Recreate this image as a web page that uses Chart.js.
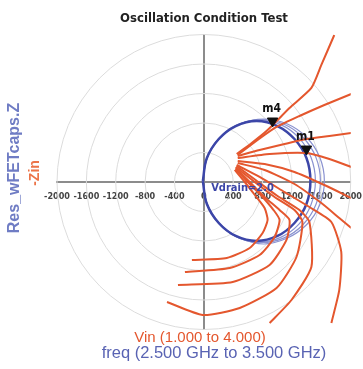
<!DOCTYPE html>
<html>
<head>
<meta charset="utf-8">
<script src="https://cdn.jsdelivr.net/npm/chart.js@4.4.1/dist/chart.umd.min.js"></script>
<style>
  html, body { margin: 0; padding: 0; background: #fff; }
  #wrap { width: 363px; height: 369px; position: relative; }
</style>
</head>
<body>
<div id="wrap"><canvas id="chart"></canvas></div>
<script>
// -Zin: one curve per freq step, Vin runs outward from 1.000 to 4.000
const zin01 = [[447, 380], [651, 529], [868, 705], [1166, 1003], [1464, 1275], [1600, 1587], [1776, 1993]];
const zin02 = [[461, 366], [732, 570], [990, 746], [1302, 895], [1641, 1044], [2007, 1193]];
const zin03 = [[461, 353], [759, 434], [1098, 515], [1397, 583], [1709, 624], [2007, 664]];
const zin04 = [[461, 325], [895, 380], [1397, 393], [1709, 312], [2007, 203]];
const zin05 = [[461, 285], [827, 244], [1234, 136], [1641, -41], [2007, -217]];
const zin06 = [[461, 258], [827, 163], [1234, -27], [1600, -285], [1844, -488], [2007, -624]];
const zin07 = [[447, 231], [759, 68], [1098, -136], [1437, -339], [1736, -542], [1871, -949], [1844, -1464], [1736, -1912]];
const zin08 = [[447, 217], [705, 27], [1003, -190], [1302, -380], [1437, -542], [1464, -1153], [1193, -1600], [895, -1912]];
const zin09 = [[434, 203], [692, 0], [963, -203], [1234, -380], [1342, -542], [1261, -1017], [990, -1437], [488, -1709], [-14, -1803], [-502, -1627]];
const zin10 = [[434, 190], [624, 0], [827, -203], [1031, -380], [1166, -515], [1125, -786], [895, -1125], [393, -1356], [-353, -1397]];
const zin11 = [[434, 176], [597, 0], [786, -190], [949, -380], [1031, -515], [963, -746], [759, -990], [353, -1166], [-258, -1220]];
const zin12 = [[420, 163], [556, 0], [705, -190], [827, -353], [868, -515], [800, -692], [624, -895], [312, -1031], [-163, -1058]];
const zinCurves = [zin01, zin02, zin03, zin04, zin05, zin06, zin07, zin08, zin09, zin10, zin11, zin12];

// Res_wFETcaps.Z: freq loops 2.5 to 3.5 GHz
const resLoop1 = [[-14, 14], [41, 325], [203, 583], [434, 759], [719, 827], [1003, 759], [1234, 583], [1397, 325], [1451, 14], [1397, -298], [1234, -556], [1003, -732], [719, -800], [434, -732], [203, -556], [41, -298]];
const resLoop2 = [[-14, 14], [45, 331], [210, 598], [460, 778], [753, 841], [1046, 778], [1295, 598], [1460, 331], [1519, 14], [1460, -304], [1295, -571], [1046, -751], [753, -814], [460, -751], [210, -571], [45, -304]];
const resLoop3 = [[-14, 14], [47, 334], [221, 603], [480, 784], [786, 847], [1093, 784], [1352, 603], [1526, 334], [1587, 14], [1526, -306], [1352, -576], [1093, -757], [786, -820], [480, -757], [221, -576], [47, -306]];
const resLoop4 = [[-14, 14], [49, 335], [229, 607], [498, 790], [814, 854], [1130, 790], [1398, 607], [1578, 335], [1641, 14], [1578, -308], [1398, -580], [1130, -763], [814, -841], [498, -763], [229, -580], [49, -308]];
const resLoops = [resLoop1, resLoop2, resLoop3, resLoop4];

const markerNames = ['m4', 'm1'];
const markerX = [936, 1397];
const markerY = [827, 447];

const ringRadii = [400, 800, 1200, 1600, 2000];
const xTicks = [-2000, -1600, -1200, -800, -400, 0, 400, 800, 1200, 1600, 2000];

const NARROW = '"Liberation Sans Narrow", "DejaVu Sans Condensed", sans-serif';
const SANS = '"Liberation Sans", Arial, sans-serif';

const toXY = pts => pts.map(([x, y]) => ({ x, y }));

const datasets = [];
zinCurves.forEach(c => datasets.push({
  data: toXY(c), showLine: true, borderColor: '#e4572e', borderWidth: 2,
  pointRadius: 0, tension: 0.2, order: 2
}));
resLoops.forEach((c, i) => datasets.push({
  data: toXY(c.concat([c[0]])), showLine: true,
  borderColor: i === 0 ? '#3c46a8' : '#8a92d0', borderWidth: i === 0 ? 2.5 : 1.2,
  pointRadius: 0, tension: 0.4, order: 3
}));
datasets.push({
  data: markerX.map((x, i) => ({ x, y: markerY[i] })), showLine: false,
  pointStyle: 'triangle', rotation: 180, pointRadius: 6,
  backgroundColor: '#111', borderColor: '#111', order: 1
});

const ringsPlugin = {
  id: 'rings',
  beforeDatasetsDraw(chart) {
    const { ctx, scales: { x, y } } = chart;
    const cx = x.getPixelForValue(0), cy = y.getPixelForValue(0);
    ctx.save();
    ctx.strokeStyle = '#dcdcdc';
    ctx.lineWidth = 1;
    ringRadii.forEach(r => {
      const rx = x.getPixelForValue(r) - cx;
      const ry = cy - y.getPixelForValue(r);
      ctx.beginPath();
      ctx.ellipse(cx, cy, rx, ry, 0, 0, Math.PI * 2);
      ctx.stroke();
    });
    ctx.restore();
  }
};

const textPlugin = {
  id: 'texts',
  afterDatasetsDraw(chart) {
    const { ctx, scales: { x, y } } = chart;
    ctx.save();
    // marker labels
    const meta = chart.getDatasetMeta(chart.data.datasets.length - 1);
    ctx.font = 'bold 12px ' + NARROW;
    ctx.fillStyle = '#111';
    ctx.textAlign = 'center';
    ctx.textBaseline = 'middle';
    meta.data.forEach((pt, i) => ctx.fillText(markerNames[i], pt.x - 1, pt.y - 12));

    // loop label
    ctx.font = 'bold 11px ' + NARROW;
    ctx.fillStyle = '#3c46a8';
    ctx.textAlign = 'left';
    ctx.fillText('Vdrain=2.0', x.getPixelForValue(100), y.getPixelForValue(-90));
    ctx.restore();
  },
  afterDraw(chart) {
    const { ctx } = chart;
    ctx.save();
    ctx.textAlign = 'center';
    ctx.textBaseline = 'middle';
    ctx.font = 'bold 13px ' + NARROW;
    ctx.fillStyle = '#222';
    ctx.fillText('Oscillation Condition Test', 204, 19);

    ctx.font = '15px ' + SANS;
    ctx.fillStyle = '#e4572e';
    ctx.fillText('Vin (1.000 to 4.000)', 200, 338);
    ctx.font = '16.5px ' + SANS;
    ctx.fillStyle = '#5963b3';
    ctx.fillText('freq (2.500 GHz to 3.500 GHz)', 214, 353);

    ctx.translate(15, 168);
    ctx.rotate(-Math.PI / 2);
    ctx.font = 'bold 16px ' + SANS;
    ctx.fillStyle = '#6f7cc4';
    ctx.fillText('Res_wFETcaps.Z', 0, 0);
    ctx.font = 'bold 14px ' + SANS;
    ctx.fillStyle = '#ec7448';
    ctx.fillText('-Zin', -5, 20);
    ctx.restore();
  }
};

new Chart(document.getElementById('chart'), {
  type: 'scatter',
  data: { datasets },
  options: {
    responsive: true,
    maintainAspectRatio: false,
    animation: false,
    layout: { padding: { left: 57, right: 11, top: 34.5, bottom: 39.5 } },
    plugins: { legend: { display: false }, tooltip: { enabled: false }, title: { display: false } },
    scales: {
      x: {
        type: 'linear', position: { y: 0 }, min: -2000, max: 2000,
        afterBuildTicks: s => { s.ticks = xTicks.map(v => ({ value: v })); },
        ticks: {
          font: { size: 9, weight: 'bold', family: NARROW }, color: '#444', padding: 1,
          maxRotation: 0, autoSkip: false, callback: v => String(v)
        },
        grid: { display: false },
        border: { color: '#8c8c8c', width: 2 }
      },
      y: {
        type: 'linear', position: { x: 0 }, min: -2000, max: 2000,
        ticks: { display: false },
        grid: { display: false },
        border: { color: '#8c8c8c', width: 2 }
      }
    }
  },
  plugins: [ringsPlugin, textPlugin]
});
</script>
</body>
</html>
